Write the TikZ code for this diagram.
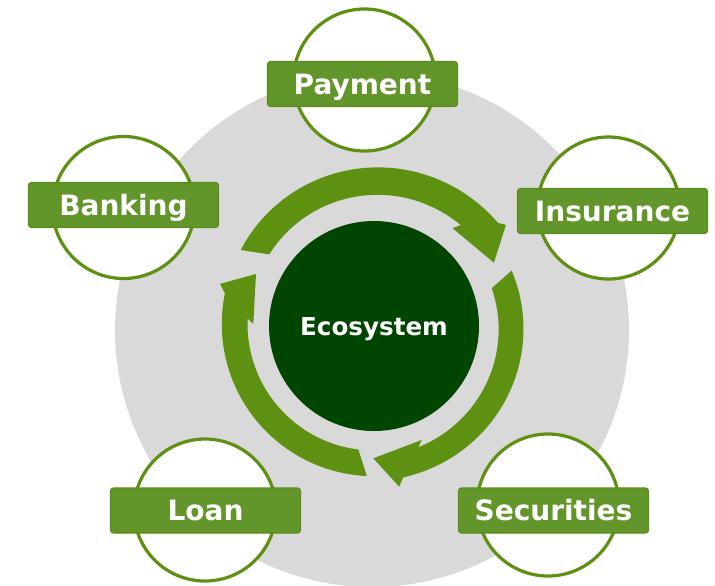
\documentclass[tikz,border=0pt]{standalone}
\usepackage{fontspec}
\setmainfont{DejaVu Sans}
\definecolor{ringgray}{HTML}{D9D9D9}
\definecolor{leafgreen}{HTML}{5E9111}
\definecolor{tabgreen}{HTML}{63962A}
\definecolor{tabedge}{HTML}{5A8C1C}
\definecolor{forest}{HTML}{004600}
\begin{document}
\begin{tikzpicture}[x=0.5pt,y=0.5pt,line join=round,
	sat/.style={circle,draw=leafgreen,line width=1.6pt,fill=white,minimum size=71pt,inner sep=0pt},
	tab/.style={rectangle,rounded corners=1.5pt,draw=tabedge,line width=0.6pt,fill=tabgreen,text=white,
		font=\bfseries\fontsize{14}{16}\selectfont,minimum width=95pt,minimum height=22.5pt,inner sep=0pt,
		text height=10.2pt,text depth=0pt},
	hub/.style={circle,fill=forest,text=white,font=\bfseries\fontsize{12.3}{14}\selectfont,minimum size=105pt,inner sep=0pt,
		text height=9pt,text depth=0pt}]
	\clip (0,0) rectangle (715,-585);
	\fill[ringgray] (372,-330) circle[radius=128.5pt];
	% the three arrows turning round the hub
	\begin{scope}[shift={(374,-324)},leafgreen]
		\fill plot[domain=150.96:39.2,samples=60] (\x:{152.5+7.5*(150.96-\x)/111.76})
			-- (36.9:165) -- (27.1:134.7) -- (50.6:123.9) -- (48.8:131.6)
			-- plot[domain=48.8:146.4,samples=60] (\x:{131.6-5.8*(\x-48.8)/97.6}) -- cycle;
		\fill plot[domain=21.2:-79.2,samples=60] (\x:{147.6+8.5*(21.2-\x)/100.4})
			-- (-81.2:164.6) -- (-90.3:134.3) -- (-67.6:125.4) -- (-70.2:131)
			-- plot[domain=-70.2:16.9,samples=60] (\x:{131-8*(\x+70.2)/87.1}) -- cycle;
		\fill plot[domain=-92.7:-191.6,samples=60] (\x:152.2)
			-- (165.4:159.1) -- (157:128.2) -- (180:120.7) -- (177.4:126.8)
			-- plot[domain=-182.6:-97.1,samples=60] (\x:126.5) -- cycle;
	\end{scope}
	\node[hub] (eco) at (374,-326) {Ecosystem};
	% services round the ring
	\node[sat] (pay) at (364.5,-80) {};
	\node[sat] (bank) at (123.5,-207.5) {};
	\node[sat] (ins) at (608.5,-208) {};
	\node[sat] (loan) at (205,-510) {};
	\node[sat] (sec) at (548,-505) {};
	\node[tab] (paytab) at (362.5,-84) {Payment};
	\node[tab] (banktab) at (123.5,-205) {Banking};
	\node[tab] (instab) at (612.5,-211) {Insurance};
	\node[tab] (loantab) at (205.5,-510.5) {Loan};
	\node[tab] (sectab) at (553.5,-510.5) {Securities};
\end{tikzpicture}
\end{document}
